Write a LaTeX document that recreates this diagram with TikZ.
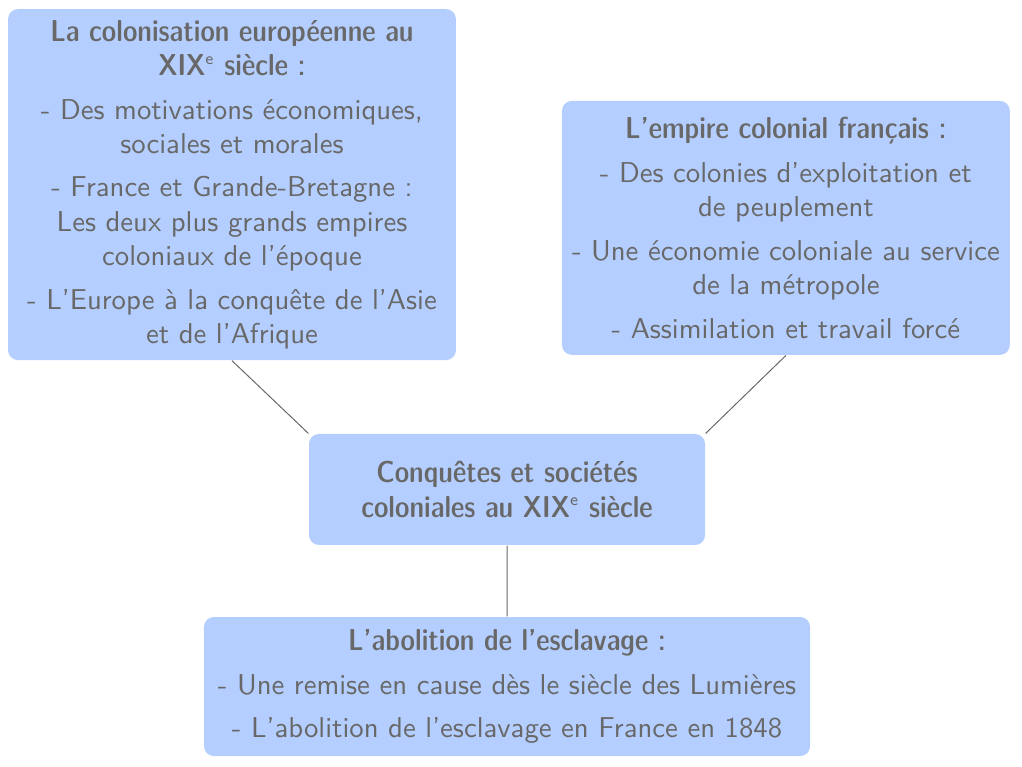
\documentclass[tikz,border=0pt]{standalone}
\usepackage{fontspec}
\usepackage{tikz}
\usetikzlibrary{positioning, backgrounds}
\usepackage{xcolor}

\definecolor{bleubloc}{RGB}{180,206,255}
\definecolor{gristexte}{RGB}{104,104,104}
\newcommand{\titre}[1]{{\fontsize{10.7}{12.2}\fontseries{sbc}\selectfont #1}}
\newcommand{\siecle}{XIX\textsuperscript{\mdseries\fontsize{6}{6}\selectfont e}}

\tikzset{
  bloc/.style={rectangle, rounded corners=3.5pt, fill=bleubloc, text=gristexte,
    font=\sffamily\fontsize{10.15}{12.1}\selectfont, align=center, inner sep=2pt},
  lien/.style={draw=gristexte, line width=0.35pt}
}

\begin{document}
\begin{tikzpicture}[node distance=3cm, on grid]
      \node[bloc, minimum width=139.9pt, minimum height=39.2pt] (conq)
        {\titre{Conquêtes et sociétés}\\ \titre{coloniales au \siecle{} siècle}};
      \node[bloc, minimum width=158.2pt, minimum height=124pt,
            above left=107.7pt and 97.15pt of conq] (colon)
        {\titre{La colonisation européenne au}\\ \titre{\siecle{} siècle :}\\[3.3pt]
         - Des motivations économiques,\\ sociales et morales\\[3.3pt]
         - France et Grande-Bretagne :\\ Les deux plus grands empires\\ coloniaux de l'époque\\[3.3pt]
         - L'Europe à la conquête de l'Asie\\ et de l'Afrique};
      \node[bloc, minimum width=158.2pt, minimum height=89.7pt,
            above right=92.4pt and 98.5pt of conq] (empire)
        {\titre{L'empire colonial français :}\\[3.3pt]
         - Des colonies d'exploitation et\\ de peuplement\\[3.3pt]
         - Une économie coloniale au service\\ de la métropole\\[3.3pt]
         - Assimilation et travail forcé};
      \node[bloc, minimum width=214.1pt, minimum height=49.1pt,
            below=69.6pt of conq] (aboli)
        {\titre{L'abolition de l'esclavage :}\\[3.3pt]
         - Une remise en cause dès le siècle des Lumières\\[3.3pt]
         - L'abolition de l'esclavage en France en 1848};
      \begin{scope}[on background layer]
        \path[lien] (colon.south) -- (conq.north west)
                    (empire.south) -- (conq.north east)
                    (conq.south) -- (aboli.north);
      \end{scope}
      \useasboundingbox ([xshift=-179.1pt, yshift=172.9pt]conq.center)
        rectangle ([xshift=181.9pt, yshift=-97.7pt]conq.center);
\end{tikzpicture}
\end{document}
